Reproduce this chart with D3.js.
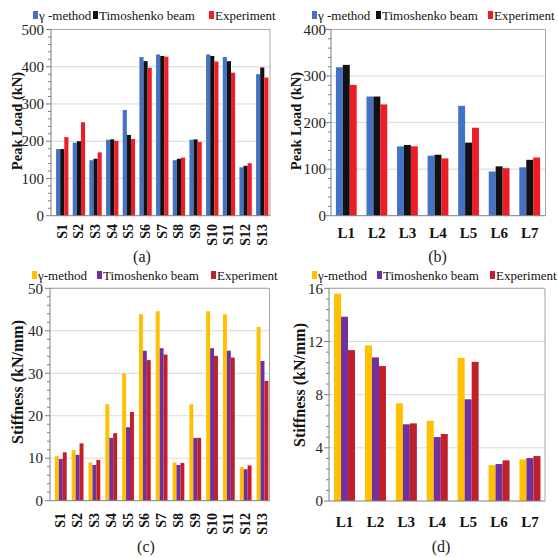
<!DOCTYPE html>
<html>
<head>
<meta charset="utf-8">
<script src="https://cdn.jsdelivr.net/npm/d3@7"></script>
<style>
  html, body { margin: 0; padding: 0; background: #fff; }
  svg { display: block; }
  svg text { font-family: "Liberation Serif", "DejaVu Serif", "Times New Roman", serif; }
</style>
</head>
<body>
<svg id="chart" width="558" height="558" font-family="Liberation Serif, DejaVu Serif, serif"></svg>
<script>
// Specimen names
const specimensS = ["S1","S2","S3","S4","S5","S6","S7","S8","S9","S10","S11","S12","S13"];
const specimensL = ["L1","L2","L3","L4","L5","L6","L7"];

// Peak load (kN), S series
const loadGammaS = [179, 196, 149, 204, 284, 426, 433, 149, 204, 433, 426, 130, 380];
const loadTimoS  = [179, 200, 153, 205, 217, 415, 429, 153, 205, 429, 415, 134, 398];
const loadExpS   = [211, 251, 170, 201, 206, 397, 427, 156, 198, 414, 384, 141, 371];

// Peak load (kN), L series
const loadGammaL = [319, 256, 149, 129, 236, 95, 104];
const loadTimoL  = [324, 256, 152, 131, 157, 106, 120];
const loadExpL   = [281, 239, 149, 123, 189, 102, 125];

// Stiffness (kN/mm), S series
const stiffGammaS = [10.5, 11.9, 9.0, 22.7, 30.0, 43.9, 44.6, 9.0, 22.7, 44.6, 43.9, 7.9, 40.9];
const stiffTimoS  = [9.8, 10.8, 8.4, 14.8, 17.3, 35.3, 35.9, 8.4, 14.8, 35.9, 35.3, 7.4, 32.9];
const stiffExpS   = [11.4, 13.5, 9.6, 15.9, 20.9, 33.1, 34.4, 8.9, 14.8, 34.1, 33.7, 8.3, 28.2];

// Stiffness (kN/mm), L series
const stiffGammaL = [15.6, 11.7, 7.35, 6.04, 10.77, 2.7, 3.13];
const stiffTimoL  = [13.86, 10.8, 5.77, 4.81, 7.65, 2.78, 3.23];
const stiffExpL   = [11.35, 10.15, 5.84, 5.04, 10.47, 3.06, 3.38];

// Legend labels
const seriesNamesTop = ["\u03b3 -method", "Timoshenko beam", "Experiment"];
const seriesNamesBottom = ["\u03b3-method", "Timoshenko beam", "Experiment"];

const loadColors = ["#4472C4", "#111111", "#EE1C25"];
const stiffColors = ["#FFC000", "#7030A0", "#C0202A"];

const FONT = "Liberation Serif, DejaVu Serif, serif";
const svg = d3.select("#chart");

function drawPanel(p) {
  const g = svg.append("g").attr("font-family", FONT);
  const x = d3.scaleBand().domain(p.categories).range(p.bandRange).paddingInner(p.padInner).paddingOuter(p.padInner / 2);
  const xs = d3.scaleBand().domain(d3.range(p.series.length)).range([0, x.bandwidth()]);
  const y = d3.scaleLinear().domain(p.domain).range([p.yBottom, p.yTop]);

  const majors = d3.range(p.domain[0], p.domain[1] + 1e-9, p.major);
  const minors = d3.range(p.domain[0], p.domain[1] + 1e-9, p.minor)
    .filter(v => Math.abs(v / p.major - Math.round(v / p.major)) > 1e-6);

  // gridlines
  g.selectAll(".grid").data(majors.slice(1)).join("line")
    .attr("x1", p.frame[0]).attr("x2", p.frame[1])
    .attr("y1", d => y(d)).attr("y2", d => y(d))
    .attr("stroke", "#d9d9d9").attr("stroke-width", 1);

  // frame (top & right)
  g.append("path")
    .attr("d", `M${p.frame[0]},${y(p.domain[1])}H${p.frame[1]}V${y(0)}`)
    .attr("fill", "none").attr("stroke", "#a6a6a6").attr("stroke-width", 1);

  // bars
  p.series.forEach((vals, si) => {
    g.append("g").selectAll("rect").data(vals).join("rect")
      .attr("x", (d, i) => x(p.categories[i]) + xs(si))
      .attr("width", xs.bandwidth())
      .attr("y", d => y(d))
      .attr("height", d => y(0) - y(d))
      .attr("fill", p.colors[si]);
  });

  // y axis line and ticks
  g.append("line").attr("x1", p.frame[0]).attr("x2", p.frame[0])
    .attr("y1", y(p.domain[1])).attr("y2", y(0)).attr("stroke", "#7f7f7f");
  g.append("line").attr("x1", p.frame[0]).attr("x2", p.frame[1])
    .attr("y1", y(0)).attr("y2", y(0)).attr("stroke", "#7f7f7f");
  g.selectAll(".maj").data(majors).join("line")
    .attr("x1", p.frame[0] - 5).attr("x2", p.frame[0])
    .attr("y1", d => y(d)).attr("y2", d => y(d)).attr("stroke", "#7f7f7f");
  g.selectAll(".min").data(minors).join("line")
    .attr("x1", p.frame[0] - 3).attr("x2", p.frame[0])
    .attr("y1", d => y(d)).attr("y2", d => y(d)).attr("stroke", "#7f7f7f");

  g.selectAll(".ylab").data(majors).join("text")
    .attr("x", p.tickLabelX).attr("y", d => y(d)).attr("dy", "0.35em")
    .attr("text-anchor", "end").attr("font-size", 15).attr("fill", "#222")
    .text(d => d3.format("~g")(d));

  // y title
  g.append("text")
    .attr("transform", `translate(${p.titleX},${p.titleY}) rotate(-90)`)
    .attr("text-anchor", "middle").attr("font-weight", "bold")
    .attr("font-size", p.titleSize).attr("fill", "#111")
    .text(p.title);

  // category labels
  if (p.rotateLabels) {
    g.selectAll(".xlab").data(p.categories).join("text")
      .attr("transform", d => `translate(${x(d) + x.bandwidth() / 2 + 4.5},${p.xLabelY}) rotate(-90)`)
      .attr("text-anchor", "end").attr("font-weight", "bold").attr("font-size", 14).attr("fill", "#111")
      .text(d => d);
  } else {
    g.selectAll(".xlab").data(p.categories).join("text")
      .attr("x", d => x(d) + x.bandwidth() / 2).attr("y", p.xLabelY)
      .attr("text-anchor", "middle").attr("font-weight", "bold").attr("font-size", 15).attr("fill", "#111")
      .text(d => d);
  }

  // caption
  g.append("text").attr("x", p.caption[0]).attr("y", p.caption[1])
    .attr("text-anchor", "middle").attr("font-size", 16).attr("fill", "#222").text(p.captionText);

  // legend
  const lg = g.append("g");
  p.legendX.forEach((lx, i) => {
    lg.append("rect").attr("x", lx).attr("y", p.legendY - 9).attr("width", 5).attr("height", 8)
      .attr("fill", p.colors[i]);
    lg.append("text").attr("x", lx + 6).attr("y", p.legendY)
      .attr("font-size", 13).attr("fill", "#111").text(p.names[i]);
  });
}

drawPanel({
  categories: specimensS, series: [loadGammaS, loadTimoS, loadExpS], colors: loadColors,
  bandRange: [53.9, 270.6], padInner: 0.26, frame: [51, 270],
  domain: [0, 500], major: 100, minor: 20, yTop: 29.5, yBottom: 215.7,
  tickLabelX: 44, title: "Peak Load (kN)", titleX: 22, titleY: 121, titleSize: 14.5,
  rotateLabels: true, xLabelY: 224, caption: [142, 262], captionText: "(a)",
  legendX: [33, 93, 209], legendY: 20, names: seriesNamesTop
});

drawPanel({
  categories: specimensL, series: [loadGammaL, loadTimoL, loadExpL], colors: loadColors,
  bandRange: [331, 545], padInner: 0.32, frame: [331, 545.5],
  domain: [0, 400], major: 100, minor: 20, yTop: 29.5, yBottom: 215.7,
  tickLabelX: 326, title: "Peak Load (kN)", titleX: 301, titleY: 121, titleSize: 14.5,
  rotateLabels: false, xLabelY: 238, caption: [437.5, 262], captionText: "(b)",
  legendX: [312, 376, 488], legendY: 20, names: seriesNamesTop
});

drawPanel({
  categories: specimensS, series: [stiffGammaS, stiffTimoS, stiffExpS], colors: stiffColors,
  bandRange: [52.4, 270.9], padInner: 0.3, frame: [50, 269.5],
  domain: [0, 50], major: 10, minor: 2, yTop: 288.3, yBottom: 500.7,
  tickLabelX: 43, title: "Stiffness (kN/mm)", titleX: 23, titleY: 382, titleSize: 16,
  rotateLabels: true, xLabelY: 513, caption: [146, 552], captionText: "(c)",
  legendX: [32, 97, 211], legendY: 280, names: seriesNamesBottom
});

drawPanel({
  categories: specimensL, series: [stiffGammaL, stiffTimoL, stiffExpL], colors: stiffColors,
  bandRange: [329.1, 545.4], padInner: 0.32, frame: [329, 545],
  domain: [0, 16], major: 4, minor: 0.8, yTop: 288.3, yBottom: 501,
  tickLabelX: 323, title: "Stiffness (kN/mm)", titleX: 305, titleY: 385, titleSize: 16,
  rotateLabels: false, xLabelY: 527, caption: [441, 552], captionText: "(d)",
  legendX: [312, 377, 490], legendY: 280, names: seriesNamesBottom
});
</script>
</body>
</html>
